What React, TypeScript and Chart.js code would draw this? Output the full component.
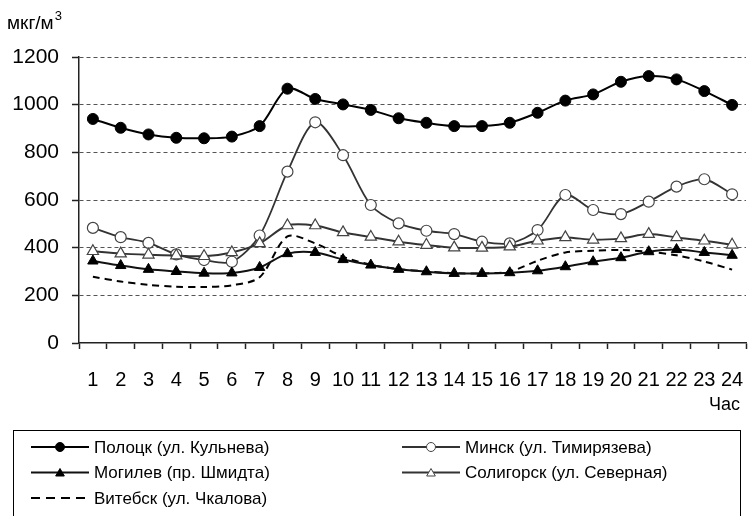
import React, { useEffect, useRef } from "react";
import { Chart, registerables } from "chart.js";
Chart.register(...registerables);

const hours = ["1","2","3","4","5","6","7","8","9","10","11","12","13","14","15","16","17","18","19","20","21","22","23","24"];
const yMin = 0;
const yMax = 1200;
const yStep = 200;
const unitLabel = "мкг/м";
const unitSup = "3";
const xTitle = "Час";

const seriesNames = [
  "Полоцк (ул. Кульнева)",
  "Минск (ул. Тимирязева)",
  "Могилев (пр. Шмидта)",
  "Солигорск (ул. Северная)",
  "Витебск (ул. Чкалова)",
];

const polotsk = [940, 903, 875, 861, 859, 866, 910, 1067, 1024, 1001, 978, 943, 924, 910, 910, 924, 966, 1017, 1043, 1096, 1120, 1106, 1057, 999];
const minsk = [483, 444, 420, 372, 348, 341, 451, 719, 926, 788, 579, 502, 471, 457, 425, 418, 474, 621, 558, 541, 593, 656, 687, 624];
const mogilev = [344, 325, 309, 300, 293, 294, 317, 375, 380, 350, 327, 309, 299, 292, 292, 295, 303, 320, 341, 358, 383, 392, 380, 368];
const soligorsk = [385, 375, 370, 367, 364, 380, 418, 493, 493, 464, 445, 425, 411, 400, 399, 404, 429, 443, 433, 439, 457, 443, 429, 412];
const vitebsk = [278, 258, 244, 236, 235, 242, 276, 447, 418, 362, 328, 310, 300, 293, 292, 300, 345, 380, 387, 390, 383, 368, 342, 308];

const FONT = "'Liberation Sans', Arial, sans-serif";

function drawMarker(ctx: CanvasRenderingContext2D, style: string, x: number, y: number, r: number, fill: string, stroke: string, bw: number) {
  ctx.save();
  ctx.beginPath();
  if (style === "circle") {
    ctx.arc(x, y, r, 0, Math.PI * 2);
  } else if (style === "triangle") {
    ctx.moveTo(x, y - r);
    ctx.lineTo(x + Math.sin((2 * Math.PI) / 3) * r, y - Math.cos((2 * Math.PI) / 3) * r);
    ctx.lineTo(x + Math.sin((4 * Math.PI) / 3) * r, y - Math.cos((4 * Math.PI) / 3) * r);
    ctx.closePath();
  }
  ctx.fillStyle = fill;
  ctx.fill();
  ctx.lineWidth = bw;
  ctx.strokeStyle = stroke;
  ctx.stroke();
  ctx.restore();
}

const extrasPlugin = {
  id: "extras",
  afterDraw(chart: any) {
    const ctx: CanvasRenderingContext2D = chart.ctx;
    ctx.save();
    ctx.fillStyle = "#000";
    ctx.textBaseline = "alphabetic";
    ctx.textAlign = "left";
    // unit title
    ctx.font = `19px ${FONT}`;
    ctx.fillText(unitLabel, 7, 29);
    const w = ctx.measureText(unitLabel).width;
    ctx.font = `13px ${FONT}`;
    ctx.fillText(unitSup, 7 + w + 1, 20);
    // x title
    ctx.font = `18px ${FONT}`;
    ctx.textAlign = "right";
    ctx.fillText(xTitle, 740, 410);

    // legend box
    ctx.strokeStyle = "#000";
    ctx.lineWidth = 1;
    ctx.strokeRect(13.5, 430.5, 727, 120);

    const cols = [31, 402];
    const rows = [447, 472.5, 498];
    const sampleW = 58;
    ctx.font = `17px ${FONT}`;
    ctx.textAlign = "left";
    ctx.textBaseline = "middle";
    chart.data.datasets.forEach((ds: any, i: number) => {
      const x0 = cols[i % 2];
      const y = rows[Math.floor(i / 2)];
      ctx.save();
      ctx.strokeStyle = ds.borderColor;
      ctx.lineWidth = ds.borderWidth;
      ctx.setLineDash(ds.legendDash || []);
      ctx.beginPath();
      ctx.moveTo(x0, y);
      ctx.lineTo(x0 + sampleW, y);
      ctx.stroke();
      ctx.restore();
      if (ds.pointRadius > 0) {
        drawMarker(ctx, ds.pointStyle, x0 + sampleW / 2, y + (ds.pointStyle === "triangle" ? 1 : 0), ds.pointStyle === "triangle" ? 5 : 4.5, ds.pointBackgroundColor, ds.pointBorderColor, 1);
      }
      ctx.fillStyle = "#000";
      ctx.fillText(ds.label, x0 + sampleW + 5, y + 1);
    });
    ctx.restore();
  },
};

export default function App() {
  const ref = useRef<HTMLCanvasElement | null>(null);
  useEffect(() => {
    document.body.style.margin = "0";
    const canvas = ref.current!;
    const chart = new Chart(canvas, {
      type: "line",
      data: {
        labels: hours,
        datasets: [
          {
            label: seriesNames[0],
            data: polotsk,
            borderColor: "#000",
            borderWidth: 2,
            pointStyle: "circle",
            pointRadius: 5.5,
            pointBackgroundColor: "#000",
            pointBorderColor: "#000",
            pointBorderWidth: 1,
            tension: 0.3,
            order: 2,
          },
          {
            label: seriesNames[1],
            data: minsk,
            borderColor: "#333",
            borderWidth: 1.8,
            pointStyle: "circle",
            pointRadius: 5.5,
            pointBackgroundColor: "#fff",
            pointBorderColor: "#444",
            pointBorderWidth: 1.2,
            tension: 0.3,
            order: 3,
          },
          {
            label: seriesNames[2],
            data: mogilev,
            borderColor: "#111",
            borderWidth: 2,
            pointStyle: "triangle",
            pointRadius: 6,
            pointBackgroundColor: "#000",
            pointBorderColor: "#000",
            pointBorderWidth: 1,
            tension: 0.3,
            order: 1,
          },
          {
            label: seriesNames[3],
            data: soligorsk,
            borderColor: "#333",
            borderWidth: 2,
            pointStyle: "triangle",
            pointRadius: 6.5,
            pointBackgroundColor: "#fff",
            pointBorderColor: "#444",
            pointBorderWidth: 1.2,
            tension: 0.3,
            order: 0,
          },
          {
            label: seriesNames[4],
            data: vitebsk,
            borderColor: "#000",
            borderWidth: 2,
            borderDash: [7, 5],
            legendDash: [9, 6],
            pointRadius: 0,
            tension: 0.3,
            order: 4,
          } as any,
        ],
      },
      options: {
        responsive: false,
        animation: false,
        devicePixelRatio: 1,
        layout: { autoPadding: false, padding: { left: 0, top: 57, right: 2, bottom: 0 } },
        plugins: {
          legend: { display: false },
          tooltip: { enabled: false },
          title: { display: false },
        },
        scales: {
          x: {
            type: "category",
            offset: true,
            grid: {
              offset: true,
              drawOnChartArea: false,
              drawTicks: true,
              tickLength: 6,
              tickColor: "#222",
              tickWidth: 1.5,
            },
            border: { display: true, color: "#222", width: 1.5 },
            ticks: {
              autoSkip: false,
              maxRotation: 0,
              minRotation: 0,
              padding: 19,
              color: "#000",
              font: { family: FONT, size: 20 },
            },
            afterFit: (s: any) => {
              s.height = 516 - 343;
              s.paddingLeft = 0;
              s.paddingRight = 0;
            },
          },
          y: {
            min: yMin,
            max: yMax,
            ticks: {
              stepSize: yStep,
              padding: 13,
              color: "#000",
              font: { family: FONT, size: 21 },
              callback: (v: any) => String(v),
            },
            grid: {
              color: (c: any) => (c.tick && c.tick.value === 0 ? "rgba(0,0,0,0)" : "#555"),
              lineWidth: 1,
              drawTicks: true,
              tickLength: 7,
              tickColor: "#222",
              tickWidth: 1.5,
              tickBorderDash: [],
            },
            border: { display: true, color: "#222", width: 1.5, dash: [4, 3] },
            afterFit: (s: any) => {
              s.width = 79;
              s.paddingTop = 0;
              s.paddingBottom = 0;
            },
          },
        },
      },
      plugins: [extrasPlugin],
    });
    return () => chart.destroy();
  }, []);
  return <canvas ref={ref} width={748} height={516} style={{ display: "block" }} />;
}
